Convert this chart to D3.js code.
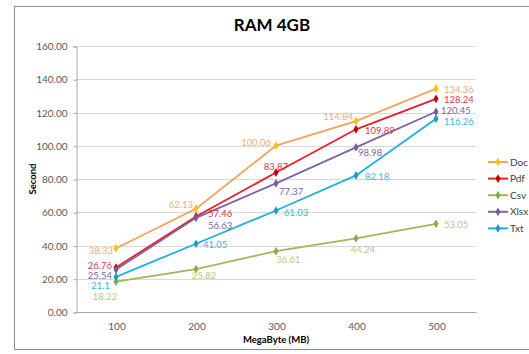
<!DOCTYPE html>
<html>
<head>
<meta charset="utf-8">
<script src="https://cdn.jsdelivr.net/npm/d3@7"></script>
<style>
  html, body { margin: 0; padding: 0; background: #fff; }
  svg { display: block; font-family: Lato, "Open Sans", sans-serif; }
</style>
</head>
<body>
<svg id="chart" width="529" height="354"></svg>
<script>
// File sizes in MB and processing time in seconds per format
const categories = [100, 200, 300, 400, 500];
const seriesNames = ["Doc", "Pdf", "Csv", "Xlsx", "Txt"];
const docValues  = [38.33, 62.13, 100.06, 114.84, 134.36];
const pdfValues  = [26.76, 57.46, 83.87, 109.89, 128.24];
const csvValues  = [18.22, 25.82, 36.61, 44.24, 53.05];
const xlsxValues = [25.54, 56.63, 77.37, 98.98, 120.45];
const txtValues  = [21.1, 41.05, 61.03, 82.18, 116.26];
const yTicks = [0, 20, 40, 60, 80, 100, 120, 140, 160];

// Appearance per series: line, marker and label colours
const styles = {
  Doc:  { line: "#F5A25D", marker: "#FFC000", label: "#E9AE80" },
  Pdf:  { line: "#E8202A", marker: "#C00000", label: "#D0404A" },
  Csv:  { line: "#9BBB59", marker: "#8AA84E", label: "#B2CC86" },
  Xlsx: { line: "#8064A2", marker: "#7A5C9E", label: "#8064A2" },
  Txt:  { line: "#1FB1D9", marker: "#1A9CC4", label: "#3EB6D8" }
};

// Label offsets relative to each point: [dx, dy, anchor]
const labelPlacement = {
  Doc:  [[-3, 6, "end"], [-3, -1, "end"], [-5, 0, "end"], [-3, -1, "end"], [8, 4, "start"]],
  Pdf:  [[-4, 1, "end"], [12, 1, "start"], [0, -3, "middle"], [9, 5, "start"], [8, 4, "start"]],
  Csv:  [[-11, 18, "middle"], [8, 10, "middle"], [0, 12, "start"], [7, 15, "middle"], [8, 4, "start"]],
  Xlsx: [[-4, 9, "end"], [12, 11, "start"], [3, 12, "start"], [2, 9, "start"], [5, 2, "start"]],
  Txt:  [[-6, 12, "end"], [7, 4, "start"], [8, 5, "start"], [9, 5, "start"], [8, 6, "start"]]
};

const valuesByName = { Doc: docValues, Pdf: pdfValues, Csv: csvValues, Xlsx: xlsxValues, Txt: txtValues };
const series = seriesNames.map(name => ({
  name,
  points: categories.map((c, i) => ({ c, v: valuesByName[name][i], i }))
}));

const svg = d3.select("#chart");

// Chart frame
svg.append("rect")
  .attr("x", 14.5).attr("y", 6.5).attr("width", 530).attr("height", 343)
  .attr("fill", "#fff").attr("stroke", "#8c8c8c").attr("stroke-width", 1);

const plot = { left: 76, right: 476, top: 46, bottom: 312 };

const x = d3.scalePoint().domain(categories).range([plot.left + 40, plot.right - 40]);
const y = d3.scaleLinear().domain([0, 160]).range([plot.bottom, plot.top]);

// Horizontal gridlines
svg.append("g").selectAll("line").data(yTicks.filter(t => t > 0)).join("line")
  .attr("x1", plot.left).attr("x2", plot.right)
  .attr("y1", d => Math.round(y(d)) + 0.5).attr("y2", d => Math.round(y(d)) + 0.5)
  .attr("stroke", "#d9d9d9").attr("stroke-width", 1);

// Y axis
const yAxis = svg.append("g")
  .attr("transform", `translate(${plot.left + 0.5},0.5)`)
  .call(d3.axisLeft(y).tickValues(yTicks).tickFormat(d3.format(".2f")).tickSize(3).tickPadding(6));
yAxis.select(".domain").attr("stroke", "#a6a6a6");
yAxis.selectAll(".tick line").attr("stroke", "#a6a6a6");
yAxis.selectAll(".tick text").attr("fill", "#595959").style("font-size", "10px")
  .style("font-family", "Lato, 'Open Sans', sans-serif");

// X axis
const xAxis = svg.append("g")
  .attr("transform", `translate(0.5,${plot.bottom + 0.5})`)
  .call(d3.axisBottom(x).tickSize(0).tickPadding(10));
xAxis.select(".domain").attr("d", `M${plot.left},0H${plot.right}`).attr("stroke", "#a6a6a6");
xAxis.selectAll(".tick text").attr("fill", "#595959").style("font-size", "10px")
  .style("font-family", "Lato, 'Open Sans', sans-serif");

// Title and axis titles
svg.append("text").attr("x", 272).attr("y", 31).attr("text-anchor", "middle")
  .attr("font-weight", "bold").attr("font-size", 17).attr("fill", "#000").text("RAM 4GB");
svg.append("text").attr("transform", "translate(36,179) rotate(-90)").attr("text-anchor", "middle")
  .attr("font-weight", "bold").attr("font-size", 9.5).attr("fill", "#000").text("Second");
svg.append("text").attr("x", 276).attr("y", 343).attr("text-anchor", "middle")
  .attr("font-weight", "bold").attr("font-size", 9.5).attr("fill", "#000").text("MegaByte (MB)");

const line = d3.line().x(d => x(d.c)).y(d => y(d.v));
const diamond = d3.symbol().type(d3.symbolDiamond).size(22);

// Series lines and markers
const gSeries = svg.append("g").selectAll("g").data(series).join("g");
gSeries.append("path")
  .attr("d", d => line(d.points))
  .attr("fill", "none")
  .attr("stroke", d => styles[d.name].line)
  .attr("stroke-width", 1.8);
gSeries.selectAll("path.m").data(d => d.points.map(p => ({ ...p, name: d.name }))).join("path")
  .attr("class", "m")
  .attr("d", diamond)
  .attr("transform", d => `translate(${x(d.c)},${y(d.v)})`)
  .attr("fill", d => styles[d.name].marker);

// Value labels
const labelData = series.flatMap(s => s.points.map(p => ({ ...p, name: s.name })));
svg.append("g").selectAll("text").data(labelData).join("text")
  .attr("x", d => x(d.c) + labelPlacement[d.name][d.i][0])
  .attr("y", d => y(d.v) + labelPlacement[d.name][d.i][1])
  .attr("text-anchor", d => labelPlacement[d.name][d.i][2])
  .attr("font-size", 9.5)
  .attr("fill", d => styles[d.name].label)
  .text(d => d.v);

// Legend
const legend = svg.append("g").selectAll("g").data(seriesNames).join("g")
  .attr("transform", (d, i) => `translate(488,${162 + i * 16.6})`);
legend.append("line").attr("x1", 0).attr("x2", 20).attr("y1", 0).attr("y2", 0)
  .attr("stroke", d => styles[d].line).attr("stroke-width", 2);
legend.append("path").attr("d", diamond).attr("transform", "translate(10,0)")
  .attr("fill", d => styles[d].marker);
legend.append("text").attr("x", 22).attr("y", 3.5).attr("font-size", 10).attr("fill", "#404040")
  .text(d => d);
</script>
</body>
</html>
